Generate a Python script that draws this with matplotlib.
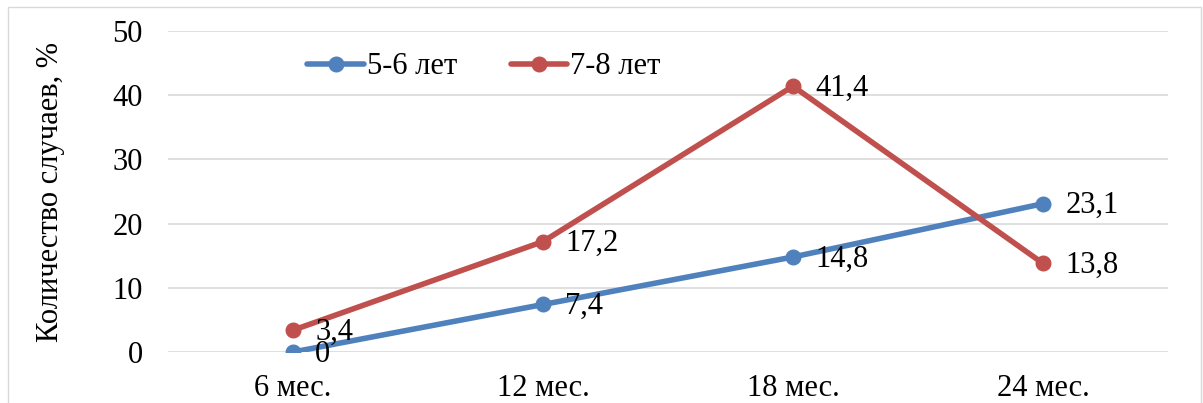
import matplotlib
matplotlib.use("Agg")
import matplotlib.pyplot as plt
from matplotlib.patches import Rectangle

categories = ["6 мес.", "12 мес.", "18 мес.", "24 мес."]
series_5_6 = [0, 7.4, 14.8, 23.1]
series_7_8 = [3.4, 17.2, 41.4, 13.8]
series_names = ["5-6 лет", "7-8 лет"]
y_ticks = [0, 10, 20, 30, 40, 50]

plt.rcParams["font.family"] = ["Liberation Serif", "DejaVu Serif"]
FS = 22

fig = plt.figure(figsize=(12.03, 4.03), dpi=100)
ax = fig.add_axes([168 / 1203, 1 - 352 / 403, 1000 / 1203, 321 / 403])

# outer chart frame
fig.patches.append(Rectangle((8 / 1203, -0.05), 1193 / 1203, 1.05 - 7 / 403,
                             transform=fig.transFigure, fill=False,
                             edgecolor="#d9d9d9", linewidth=1.0))

x = list(range(len(categories)))
blue = "#4f81bd"
red = "#c0504d"
ax.plot(x, series_5_6, color=blue, linewidth=4.0, marker="o", markersize=10.5,
        label=series_names[0], solid_capstyle="round", zorder=3)
ax.plot(x, series_7_8, color=red, linewidth=4.0, marker="o", markersize=10.5,
        label=series_names[1], solid_capstyle="round", zorder=3)

def fmt(v):
    return f"{v:g}".replace(".", ",")

for ys in (series_5_6, series_7_8):
    for xi, yi in zip(x, ys):
        ax.annotate(fmt(yi), (xi, yi), xytext=(16, -1.5), textcoords="offset points",
                    ha="left", va="center", fontsize=FS, color="black", zorder=4)

ax.set_xlim(-0.5, len(categories) - 0.5)
ax.set_ylim(0, 50)
ax.set_yticks(y_ticks)
ax.set_xticks(x)
ax.set_xticklabels(categories)
ax.tick_params(axis="both", length=0, labelsize=FS, colors="black")
ax.tick_params(axis="y", pad=18)
ax.tick_params(axis="x", pad=16)
ax.grid(axis="y", color="#d9d9d9", linewidth=1.2)
ax.set_axisbelow(True)
for sp in ax.spines.values():
    sp.set_visible(False)

ax.set_ylabel("Количество случаев, %", fontsize=FS)
ax.yaxis.set_label_coords(-103 / 1000, 0.5)

leg = ax.legend(loc="upper left", bbox_to_anchor=(118 / 1000, 1.0), ncol=2,
                frameon=False, fontsize=FS, handlelength=1.85, columnspacing=1.75,
                handletextpad=0.1, borderaxespad=0.3)

fig.savefig("out.png", dpi=100)
